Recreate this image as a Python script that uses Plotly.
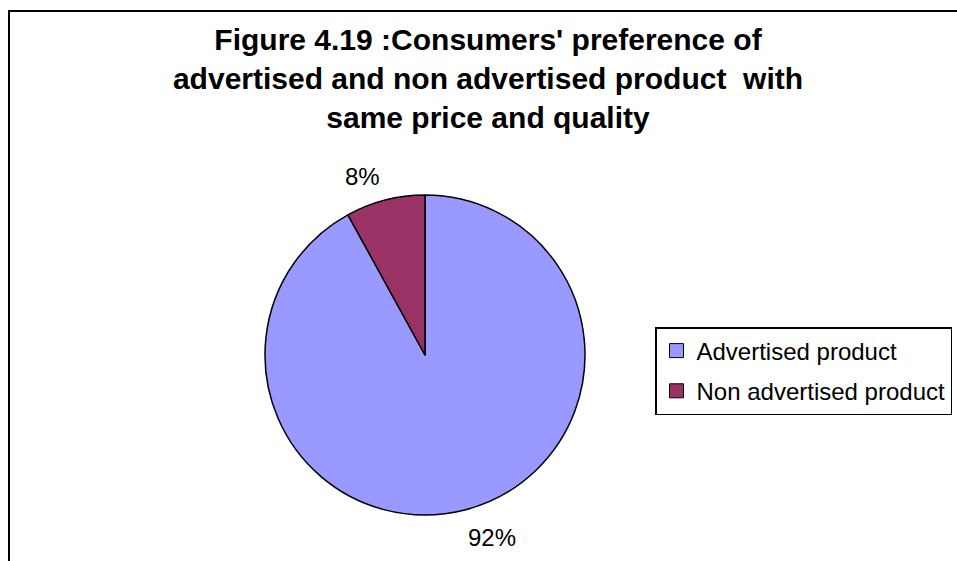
import plotly.graph_objects as go

# Survey result: preference between products of equal price and quality
categories = ["Advertised product", "Non advertised product"]
shares = [92, 8]
colors = ["#9999FF", "#993366"]

title_lines = [
    "Figure 4.19 :Consumers' preference of",
    "advertised and non advertised product\u00a0 with",
    "same price and quality",
]

# percentage label positions (paper coords) for each slice
label_pos = [(492 / 957, 1 - 537 / 561), (362 / 957, 1 - 177 / 561)]

FONT = "Liberation Sans, Arial, sans-serif"

fig = go.Figure()

fig.add_trace(go.Pie(
    labels=categories,
    values=shares,
    sort=False,
    direction="clockwise",
    rotation=0,
    marker=dict(colors=colors, line=dict(color="black", width=1.5)),
    textinfo="none",
    hoverinfo="label+percent",
    showlegend=False,
    domain=dict(x=[265 / 957, 585 / 957], y=[1 - 515 / 561, 1 - 195 / 561]),
))

# legend entries, one group each so the entries can be spaced apart
for name, col in zip(categories, colors):
    fig.add_trace(go.Scatter(
        x=[None], y=[None], mode="markers", name=name,
        legendgroup=name,
        marker=dict(symbol="square", size=14, color=col,
                    line=dict(color="black", width=1)),
    ))

for (lx, ly), v in zip(label_pos, shares):
    fig.add_annotation(
        x=lx, y=ly, xref="paper", yref="paper",
        text=f"{v}%", showarrow=False,
        font=dict(family=FONT, size=24, color="black"),
        xanchor="center", yanchor="middle",
    )

# outer chart frame
fig.add_shape(
    type="rect", xref="paper", yref="paper",
    x0=9 / 957, y0=-0.05, x1=1.05, y1=1 - 11 / 561,
    line=dict(color="black", width=2), fillcolor="rgba(0,0,0,0)",
)

fig.update_layout(
    width=957, height=561,
    margin=dict(l=0, r=0, t=0, b=0),
    paper_bgcolor="white", plot_bgcolor="white",
    font=dict(family=FONT, color="black"),
    title=dict(
        text="<b>" + "<br>".join(title_lines) + "</b>",
        x=488 / 957, xanchor="center",
        y=1 - 50 / 561, yanchor="top",
        font=dict(family=FONT, size=30, color="black"),
    ),
    xaxis=dict(visible=False),
    yaxis=dict(visible=False),
    legend=dict(
        x=655 / 957, xanchor="left",
        y=1 - 327 / 561, yanchor="top",
        font=dict(family=FONT, size=24, color="black"),
        bgcolor="white", bordercolor="black", borderwidth=1.5,
        traceorder="grouped", tracegroupgap=6,
        itemclick=False, itemdoubleclick=False,
    ),
)

fig.write_html("out.html")
